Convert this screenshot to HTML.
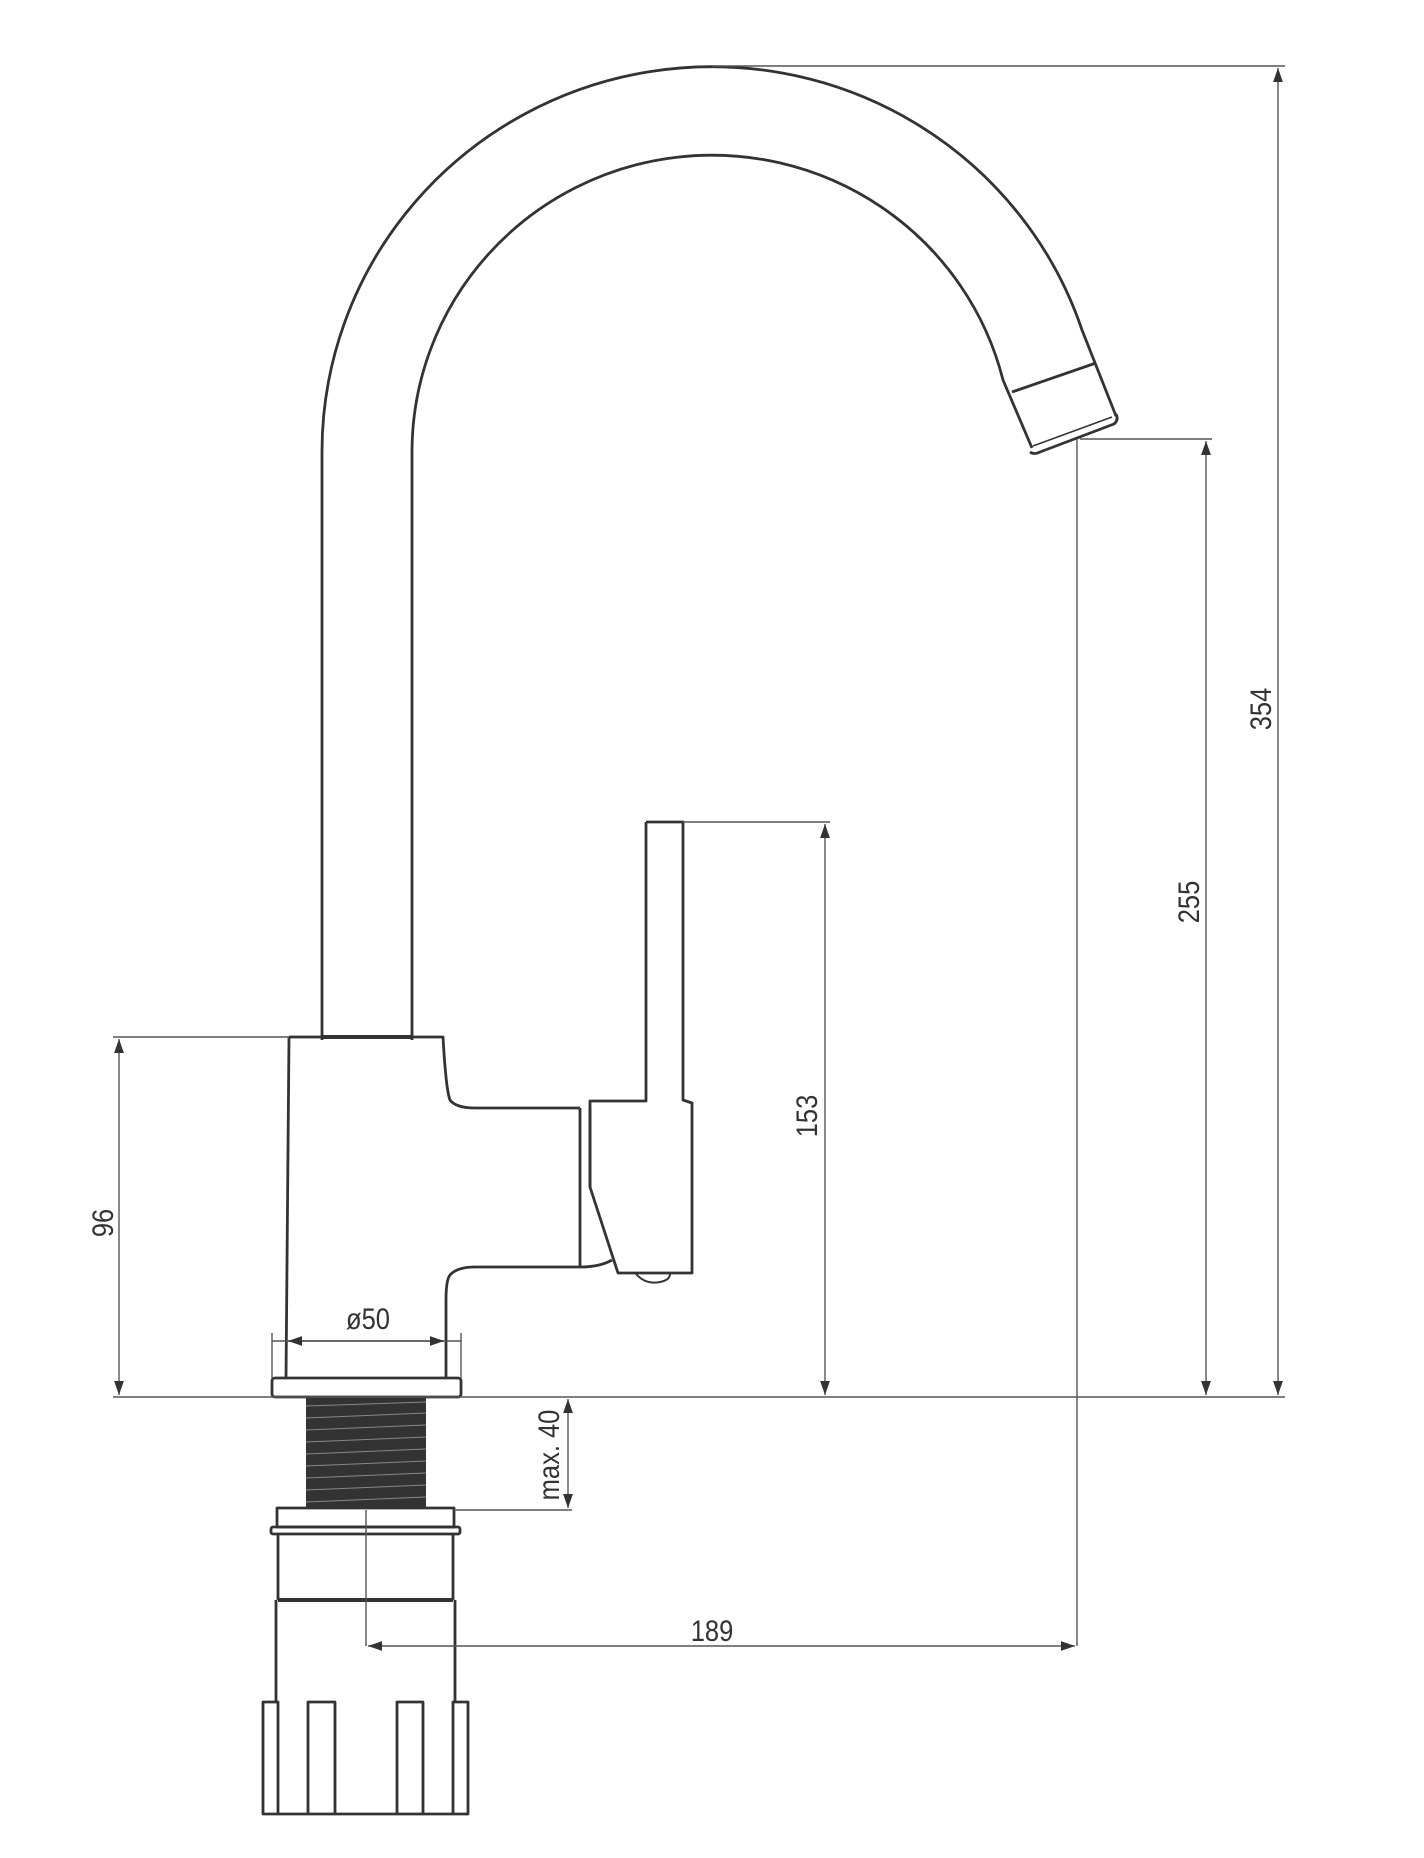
<!DOCTYPE html>
<html><head><meta charset="utf-8"><style>
html,body{margin:0;padding:0;background:#fff;}
svg{display:block;}
text{font-family:"Liberation Sans",sans-serif;font-size:30px;fill:#333;}
</style></head><body>
<svg width="1424" height="1858" viewBox="0 0 1424 1858" xmlns="http://www.w3.org/2000/svg">
<defs>
<marker id="a" viewBox="0 0 10 10" refX="10" refY="5" markerWidth="14" markerHeight="14" markerUnits="userSpaceOnUse" orient="auto-start-reverse"><path d="M0,1.5 L10,5 L0,8.5z" fill="#333"/></marker>
</defs>
<g fill="none" stroke="#333" stroke-width="2.8" stroke-linejoin="round">
<!-- spout -->
<path d="M322,1040 L322,451 A390,385 0 0 1 1082,330 L1116,416"/>
<path d="M412,1040 L412,451 A300,297 0 0 1 1003,380 L1032,448"/>
<path d="M1030,452 Q1034,455 1040,452 L1114,424 Q1119,420 1116,414"/>
<path d="M1033,446 L1112,417" stroke-width="1.5"/>
<path d="M1012,392 L1096,363"/>
<!-- body -->
<path d="M321,1037 L412,1037" stroke-width="4"/>
<path d="M289,1037 L443,1037 Q446,1090 450,1100 Q456,1108 475,1108 L580,1108"/>
<path d="M289,1037 L286,1378"/>
<path d="M580,1267 L475,1267 Q457,1267 450,1275 Q446,1280 446,1300 L446,1378"/>
<path d="M580,1108 L580,1267 M590,1108 L590,1187"/>
<path d="M580,1267 Q600,1267 612,1260"/>
<!-- lever -->
<path d="M646,822 L683,822 L683,1100 L692,1103 L692,1273 L618,1273 L590,1187 L590,1101 L646,1101 L646,822"/>
<path d="M636,1274 Q646,1285 660,1282 Q670,1280 670,1274" stroke-width="2"/>
<!-- flange -->
<rect x="272" y="1378" width="189" height="19" rx="3"/>
<!-- thread -->
<rect x="306" y="1398" width="120" height="110" fill="#333" stroke="none"/>
<g stroke="#888" stroke-width="1">
<path d="M306,1406 L426,1402 M306,1418 L426,1413 M306,1430 L426,1425 M306,1442 L426,1437 M306,1454 L426,1449 M306,1466 L426,1461 M306,1478 L426,1473 M306,1490 L426,1485 M306,1502 L426,1497"/>
</g>
<!-- nut -->
<rect x="277" y="1508" width="177" height="19"/>
<rect x="271" y="1527" width="189" height="7" rx="2"/>
<path d="M278,1534 L278,1600 M453,1534 L453,1600"/>
<path d="M278,1600 L453,1600" stroke-width="4"/>
<path d="M276,1600 L276,1702 M455,1600 L455,1702"/>
<path d="M263,1702 L278,1702 L278,1814 L263,1814 Z M453,1702 L468,1702 L468,1814 L453,1814 Z M308,1702 L335,1702 L335,1814 L308,1814 Z M397,1702 L423,1702 L423,1814 L397,1814 Z M263,1814 L468,1814"/>
</g>
<!-- dimensions -->
<g fill="none" stroke="#555" stroke-width="1.4">
<path d="M712,66 L1285,66"/>
<path d="M1080,439 L1212,439"/>
<path d="M683,822 L830,822"/>
<path d="M113,1037 L289,1037"/>
<path d="M113,1397 L1285,1397"/>
<path d="M454,1510 L572,1510"/>
<path d="M272,1333 L272,1378 M461,1333 L461,1378"/>
<path d="M1077,439 L1077,1646"/>
<path d="M366,1510 L366,1646"/>
<path d="M1278,68 L1278,1395" marker-start="url(#a)" marker-end="url(#a)"/>
<path d="M1206,441 L1206,1395" marker-start="url(#a)" marker-end="url(#a)"/>
<path d="M825,824 L825,1395" marker-start="url(#a)" marker-end="url(#a)"/>
<path d="M119,1039 L119,1395" marker-start="url(#a)" marker-end="url(#a)"/>
<path d="M568,1399 L568,1508" marker-start="url(#a)" marker-end="url(#a)"/>
<path d="M368,1646 L1075,1646" marker-start="url(#a)" marker-end="url(#a)"/>
<path d="M272,1341 L461,1341"/>
<path d="M288,1341 L444,1341" marker-start="url(#a)" marker-end="url(#a)"/>
</g>
<g text-anchor="middle">
<text transform="translate(1271,709) rotate(-90) scale(0.85,1)">354</text>
<text transform="translate(1199,902) rotate(-90) scale(0.85,1)">255</text>
<text transform="translate(817,1116) rotate(-90) scale(0.85,1)">153</text>
<text transform="translate(113,1223) rotate(-90) scale(0.85,1)">96</text>
<text transform="translate(559,1455) rotate(-90) scale(0.85,1)">max. 40</text>
<text transform="translate(368,1329) scale(0.85,1)">ø50</text>
<text transform="translate(712,1641) scale(0.85,1)">189</text>
</g>
</svg>
</body></html>
